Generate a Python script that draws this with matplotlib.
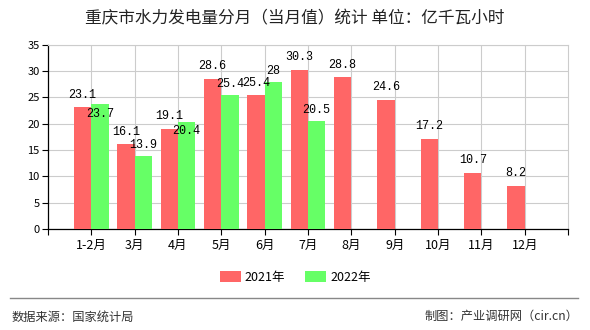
import matplotlib
matplotlib.use("Agg")
import matplotlib.pyplot as plt
import numpy as np

plt.rcParams["font.family"] = ["Noto Sans CJK SC", "DejaVu Sans"]

# data
MONTHS = ["1-2月", "3月", "4月", "5月", "6月", "7月", "8月", "9月", "10月", "11月", "12月"]
VAL_2021 = [23.1, 16.1, 19.1, 28.6, 25.4, 30.3, 28.8, 24.6, 17.2, 10.7, 8.2]
VAL_2022 = [23.7, 13.9, 20.4, 25.4, 28, 20.5]
SERIES_NAMES = ["2021年", "2022年"]

TITLE = "重庆市水力发电量分月（当月值）统计 单位：亿千瓦小时"
SOURCE = "数据来源：国家统计局"
CREDIT = "制图：产业调研网（cir.cn）"

RED = "#FF6666"
GREEN = "#66FF66"
GRID = "#CCCCCC"
MONO = ["Liberation Mono", "DejaVu Sans Mono"]


def fmt(v):
    return f"{v:g}"


fig = plt.figure(figsize=(5.9, 3.3), dpi=100)
ax = fig.add_axes([0.081, 0.306, 0.882, 0.558])

x = np.arange(1, len(MONTHS) + 1)
w = 0.4
x21 = x - w / 2
x22 = x[:len(VAL_2022)] + w / 2

ax.bar(x21, VAL_2021, width=w, color=RED, zorder=3, label=SERIES_NAMES[0])
ax.bar(x22, VAL_2022, width=w, color=GREEN, zorder=3, label=SERIES_NAMES[1])

# value labels (green ones that would collide with the red label go inside)
for xi, v in zip(x21, VAL_2021):
    ax.annotate(fmt(v), (xi, v), xytext=(0, 9), textcoords="offset points",
                ha="center", va="center", fontsize=8.5, family=MONO, zorder=5)
for i, (xi, v) in enumerate(zip(x22, VAL_2022)):
    dy = -7 if abs(v - VAL_2021[i]) < 2 else 8
    ax.annotate(fmt(v), (xi, v), xytext=(0, dy), textcoords="offset points",
                ha="center", va="center", fontsize=8.5, family=MONO, zorder=5)

ax.set_xlim(0, len(MONTHS) + 1)
ax.set_ylim(0, 35)
ax.set_yticks(np.arange(0, 36, 5))
ax.set_xticks(x)
ax.set_xticklabels(MONTHS, fontsize=9)
ax.set_xticks(np.arange(0, len(MONTHS) + 2), minor=True)
ax.tick_params(axis="y", labelsize=8, length=4, width=0.8, pad=2)
ax.tick_params(axis="x", which="both", length=4, width=0.8, pad=3)

ax.grid(True, which="major", color=GRID, linewidth=0.8, zorder=0)
ax.set_axisbelow(True)
for s in ("top", "right"):
    ax.spines[s].set_color(GRID)
    ax.spines[s].set_linewidth(0.8)
for s in ("left", "bottom"):
    ax.spines[s].set_color("black")
    ax.spines[s].set_linewidth(0.9)

fig.text(0.5, 0.943, TITLE, ha="center", va="center", fontsize=12, color="#222222")

fig.legend(loc="center", bbox_to_anchor=(0.5, 0.16), ncol=2, frameon=False,
           fontsize=9, handlelength=1.7, handleheight=0.9, columnspacing=1.6,
           handletextpad=0.3)

fig.add_artist(plt.Line2D([0.017, 0.98], [0.097, 0.097], color="#888888", linewidth=1.0))
fig.text(0.02, 0.04, SOURCE, ha="left", va="center", fontsize=8.8, color="#333333")
fig.text(0.98, 0.04, CREDIT, ha="right", va="center", fontsize=8.8, color="#333333")

fig.savefig("out.png", dpi=100)
